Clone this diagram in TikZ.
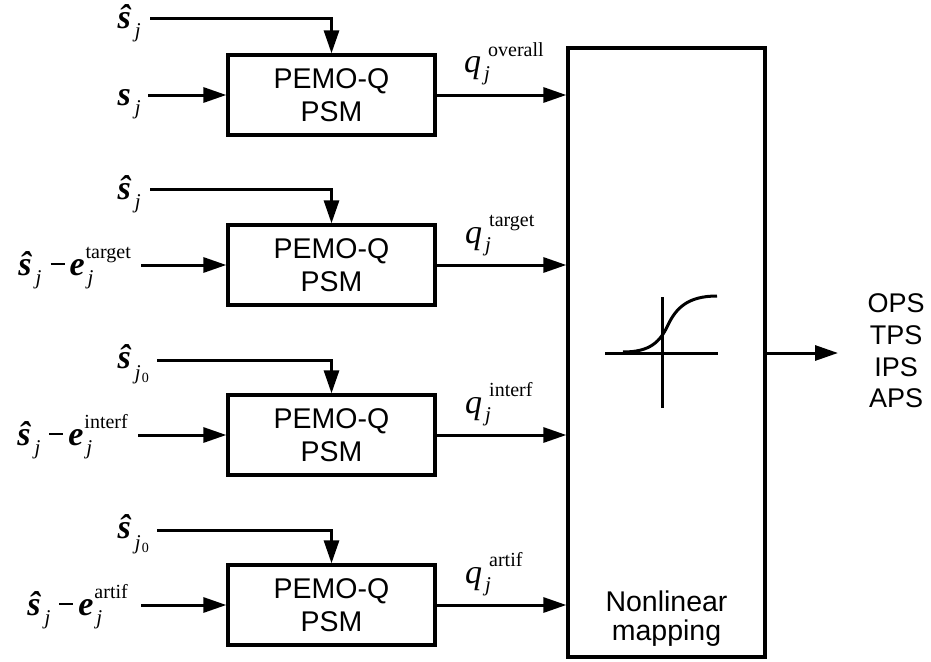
\documentclass[tikz,border=0pt]{standalone}
\usepackage{fontspec}
\setmainfont{Liberation Serif}
\newfontfamily\lsans{Liberation Sans}
\usetikzlibrary{arrows.meta}
\newcommand\mylbl{\fontsize{34pt}{40pt}\selectfont}
\newcommand\bsh{{\bfseries\itshape ŝ}}
\newcommand\bsv{{\bfseries\itshape s}}
\newcommand\bse{{\bfseries\itshape e}}
\newcommand\subj{\kern4pt\raisebox{-9pt}{\fontsize{21pt}{21pt}\selectfont\itshape j}}
\newcommand\subjz{\kern4pt\raisebox{-11pt}{\fontsize{21pt}{21pt}\selectfont\itshape j\kern1pt\raisebox{-3pt}{\upshape\fontsize{14pt}{14pt}\selectfont 0}}}
\newcommand\mminus{\kern9pt\rule[10pt]{14pt}{2pt}\kern5pt}
\newcommand\supsubx[2]{\kern1pt\rlap{\kern2pt\raisebox{-9pt}{\fontsize{21pt}{21pt}\selectfont\itshape #2}}\raisebox{17pt}{\fontsize{20pt}{20pt}\selectfont #1}}
\newcommand\qlbl[1]{{\fontsize{34pt}{34pt}\selectfont\itshape q}\rlap{\kern3pt\raisebox{-8pt}{\fontsize{21pt}{21pt}\selectfont\itshape j}}\kern7pt\raisebox{17pt}{\fontsize{20pt}{20pt}\selectfont #1}}
\tikzset{
  pbox/.style={draw, line width=3.3pt, minimum width=207pt, minimum height=80pt, inner sep=0pt, align=center, font=\lsans\fontsize{28.5pt}{33pt}\selectfont},
  arr/.style={line width=3pt, -{Triangle[length=23pt,width=15pt]}},
  ln/.style={line width=3pt},
  lbl/.style={anchor=base east, inner sep=0pt},
  qlab/.style={anchor=base west, inner sep=0pt},
}
\begin{document}
\begin{tikzpicture}[x=1pt,y=-1pt]
\useasboundingbox (0,0) rectangle (931,661);
% boxes
\node[pbox] (b1) at (331.5,95) {PEMO-Q\\PSM};
\node[pbox] (b2) at (331.5,265) {PEMO-Q\\PSM};
\node[pbox] (b3) at (331.5,435) {PEMO-Q\\PSM};
\node[pbox] (b4) at (331.5,605) {PEMO-Q\\PSM};
\node[draw, line width=3.3pt, minimum width=197pt, minimum height=609pt, inner sep=0pt] (nl) at (666.5,352.5) {};
\node[inner sep=0pt, align=center, font=\lsans\fontsize{28.5pt}{29pt}\selectfont] (nlt) at (666.5,619) {Nonlinear\\mapping};
% input start points
\coordinate (t1) at (150,19);
\coordinate (t2) at (150,189);
\coordinate (t3) at (157,360);
\coordinate (t4) at (157,530);
\coordinate (i1) at (148,95);
\coordinate (i2) at (141,265);
\coordinate (i3) at (138,435);
\coordinate (i4) at (141,605);
% labels
\node[lbl] (lt1) at (141,29) {\mylbl\bsh\subj};
\node[lbl] (li1) at (141,105) {\mylbl\bsv\subj};
\node[lbl] (lt2) at (141,199) {\mylbl\bsh\subj};
\node[lbl] (li2) at (131,275) {\mylbl\bsh\subj\mminus\bse\supsubx{target}{j}};
\node[lbl] (lt3) at (149,368) {\mylbl\bsh\subjz};
\node[lbl] (li3) at (128,445) {\mylbl\bsh\subj\mminus\bse\supsubx{interf}{j}};
\node[lbl] (lt4) at (149,538) {\mylbl\bsh\subjz};
\node[lbl] (li4) at (128,615) {\mylbl\bsh\subj\mminus\bse\supsubx{artif}{j}};
% connectors
\foreach \k in {1,2,3,4}{
  \draw[arr] (t\k) -| (b\k.north);
  \draw[arr] (i\k) -- (b\k.west);
  \draw[arr] (b\k.east) -- (b\k.east -| nl.west);
}
% q labels
\node[qlab] (q1) at (464,73) {\qlbl{overall}};
\node[qlab] (q2) at (465,243) {\qlbl{target}};
\node[qlab] (q3) at (465,413) {\qlbl{interf}};
\node[qlab] (q4) at (465,583) {\qlbl{artif}};
% sigmoid
\coordinate (ha) at (605,353);
\coordinate (hb) at (718,353);
\coordinate (va) at (662,297);
\coordinate (vb) at (662,408);
\draw[ln] (ha) -- (hb);
\draw[ln] (va) -- (vb);
\draw[ln] (623,352) .. controls (650,352) and (660,342) .. (668,325) .. controls (676,308) and (688,296) .. (717,296);
% output
\node[inner sep=0pt, align=center, font=\lsans\fontsize{27pt}{31.7pt}\selectfont] (out) at (896,351) {OPS\\TPS\\IPS\\APS};
\coordinate (oe) at (838,353);
\draw[arr] (nl.east |- oe) -- (oe);
\end{tikzpicture}
\end{document}
